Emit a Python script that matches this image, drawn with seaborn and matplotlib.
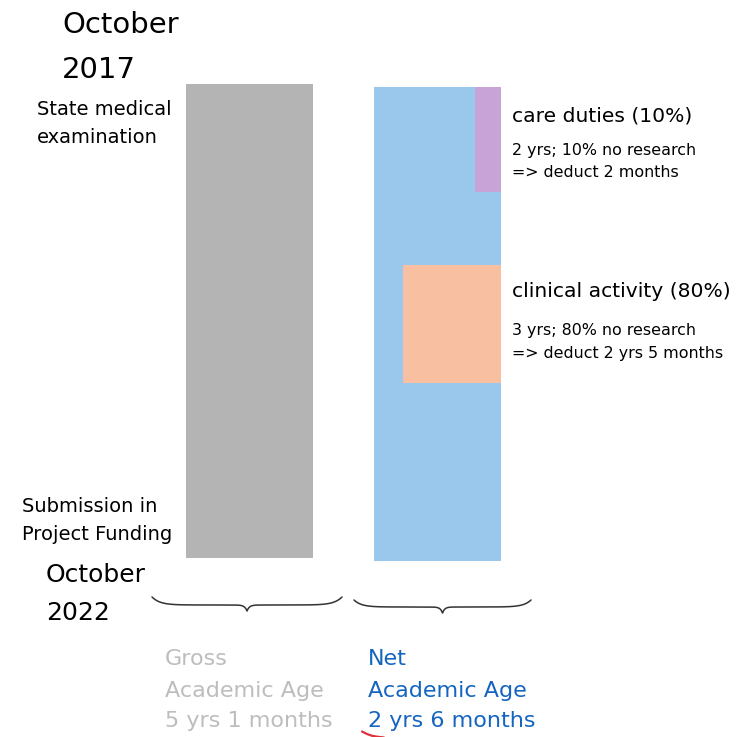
import numpy as np
import pandas as pd
import matplotlib
matplotlib.use("Agg")
import matplotlib.pyplot as plt
import seaborn as sns

# ---------------- data ----------------
bar_labels = ["Gross", "Net"]
bar_months = [61, 61]                      # Oct 2017 -> Oct 2022 (5 yrs 1 month)
bar_colors = ["#b4b4b4", "#9ac8ed"]

overlay_labels = ["care duties (10%)", "clinical activity (80%)"]
overlay_notes = ["2 yrs; 10% no research\n=> deduct 2 months",
                 "3 yrs; 80% no research\n=> deduct 2 yrs 5 months"]
overlay_start = [0.0, 22.9]                # months below bar top, as drawn
overlay_end = [13.5, 38.1]
overlay_share = [0.2, 0.77]                # drawn width share of the Net bar
overlay_colors = ["#c8a3d8", "#f8c0a0"]

top_date = "October\n2017"
top_event = "State medical\nexamination"
bottom_date = "October\n2022"
bottom_event = "Submission in\nProject Funding"
summary_gross = ["Gross", "Academic Age", "5 yrs 1 months"]
summary_net = ["Net", "Academic Age", "2 yrs 6 months"]

# ---------------- figure ----------------
sns.set_theme(style="white")
plt.rcParams["font.family"] = ["DejaVu Sans"]

W, H = 743, 737
fig = plt.figure(figsize=(W / 100, H / 100), dpi=100)
fig.patch.set_facecolor("white")

px_per_month = 474 / 61.0
top_px = 84
ax = fig.add_axes([0, 0, 1, 1])
ax.set_facecolor("none")

bar_x = [249.5, 437.0]
bar_w = 127.0
df = pd.DataFrame({"pos": bar_x, "months": bar_months, "label": bar_labels})
sns.barplot(data=df, x="pos", y="months", hue="label",
            palette=dict(zip(bar_labels, bar_colors)), native_scale=True,
            width=bar_w / (bar_x[1] - bar_x[0]), dodge=False, legend=False,
            errorbar=None, saturation=1, linewidth=0, ax=ax)

net_offset = 3 / px_per_month
for p in ax.patches:
    if abs(p.get_x() + p.get_width() / 2 - bar_x[1]) < 1:
        p.set_y(p.get_y() + net_offset)

net_right = bar_x[1] + bar_w / 2
for s, e, share, c in zip(overlay_start, overlay_end, overlay_share, overlay_colors):
    w = bar_w * share
    ax.bar(net_right - w / 2, e - s, bottom=s + net_offset, width=w,
           color=c, linewidth=0)

ax.set_xlim(0, W)
ax.set_ylim((H - top_px) / px_per_month, -top_px / px_per_month)
ax.axis("off")

# ---------------- annotations (pixel coords) ----------------
a2 = fig.add_axes([0, 0, 1, 1])
a2.set_xlim(0, W)
a2.set_ylim(H, 0)
a2.axis("off")
a2.set_facecolor("none")


def txt(x, y, s, size, color="#000000"):
    a2.text(x, y, s, fontsize=size, color=color, ha="left", va="baseline")


txt(62, 33, top_date.split("\n")[0], 21)
txt(62, 78, top_date.split("\n")[1], 21)
txt(37, 115, top_event.split("\n")[0], 14)
txt(37, 143, top_event.split("\n")[1], 14)

txt(22, 512, bottom_event.split("\n")[0], 14)
txt(22, 540, bottom_event.split("\n")[1], 14)
txt(46, 582, bottom_date.split("\n")[0], 18)
txt(46, 620, bottom_date.split("\n")[1], 18)

# overlay labels
label_y = [121, 297]
note_y = [(155, 177), (335, 358)]
for lab, note, ly, (n1, n2) in zip(overlay_labels, overlay_notes, label_y, note_y):
    txt(512, ly, lab, 14.6)
    l1, l2 = note.split("\n")
    txt(512, n1, l1, 11.4)
    txt(512, n2, l2, 11.4)

# summaries
rows_y = [665, 697, 727]
for s, y in zip(summary_gross, rows_y):
    txt(165, y, s, 16, color="#bdbdbd")
for s, y in zip(summary_net, rows_y):
    txt(368, y, s, 16, color="#1565c0")

# red swoosh under the "2"
sx = np.array([362, 367, 372, 378, 384])
sy = np.array([731.5, 734.0, 735.8, 736.8, 737.5])
a2.plot(sx, sy, color="#e0303a", lw=1.6, solid_capstyle="round")


def draw_brace(x0, x1, y0, yflat, ytip):
    xm = (x0 + x1) / 2
    n = 300
    t = np.linspace(0, 1, n)
    sx_l = x0 + (xm - x0) * t
    yl = y0 + (yflat - y0) * (1 - np.exp(-t * 12)) + (ytip - yflat) * np.exp((t - 1) * 40)
    sx_r = xm + (x1 - xm) * t
    yr = y0 + (yflat - y0) * (1 - np.exp(-(1 - t) * 12)) + (ytip - yflat) * np.exp(-t * 40)
    xs = np.concatenate([sx_l, sx_r])
    ys = np.concatenate([yl, yr])
    a2.plot(xs, ys, color="#333333", lw=1.1)


draw_brace(152, 342, 597, 605, 611)
draw_brace(354, 531, 600, 607, 613)

fig.savefig("out.png", dpi=100, facecolor="white")
